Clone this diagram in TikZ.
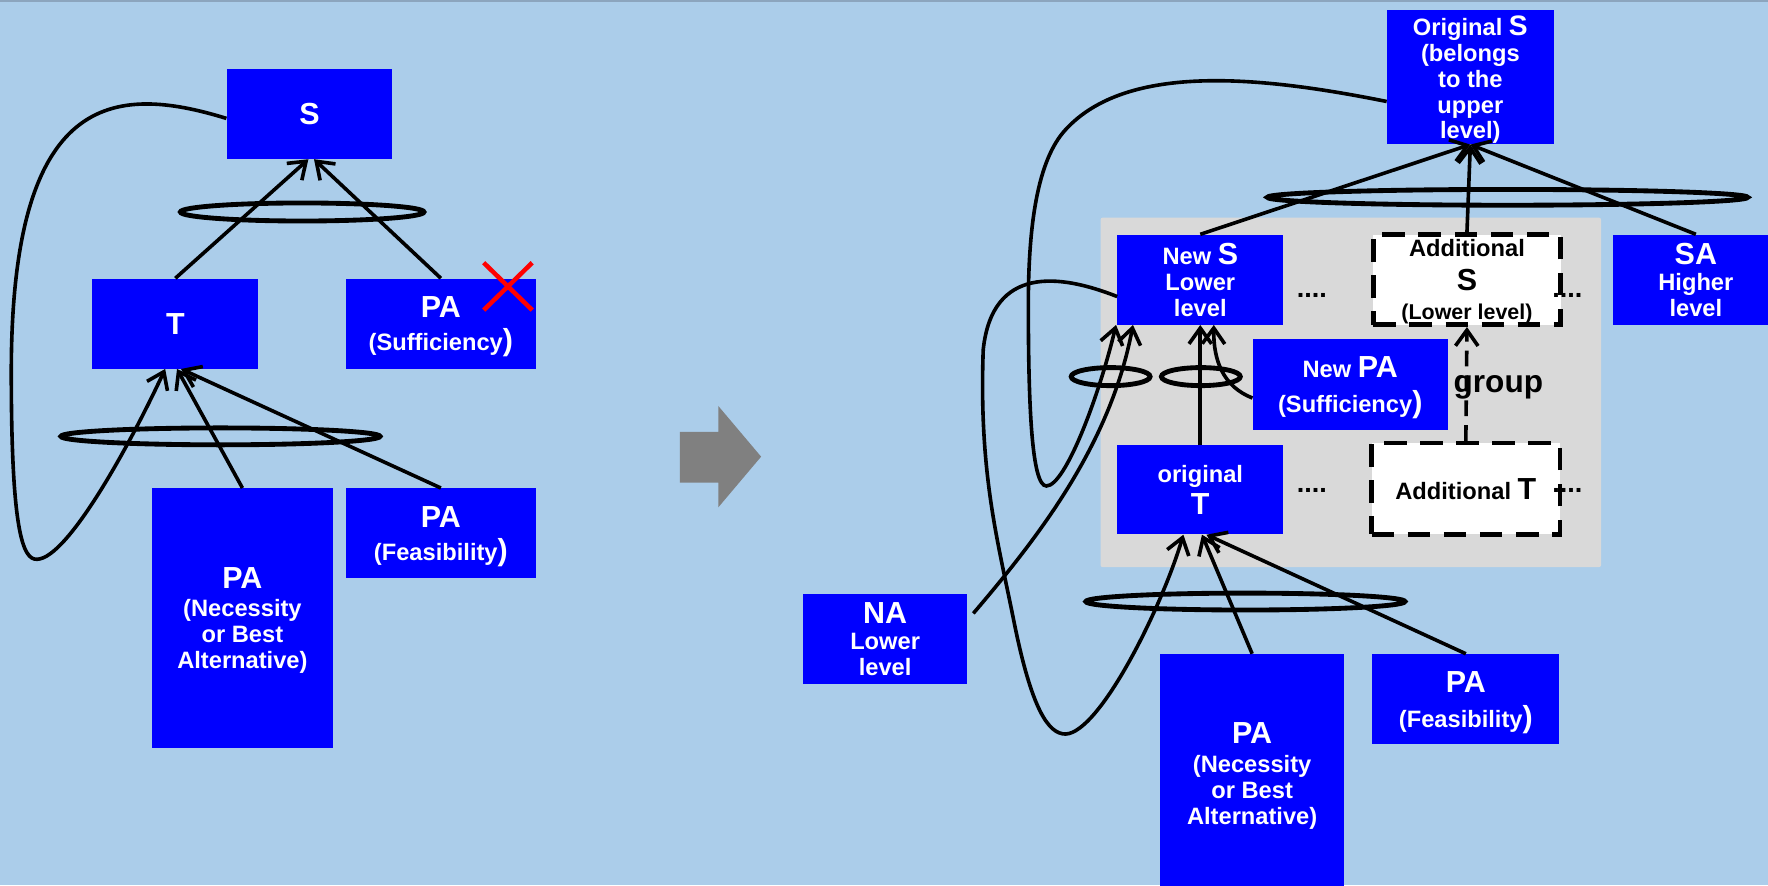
\documentclass[tikz,border=0pt]{standalone}
\usepackage{fontspec}
\setmainfont{Liberation Sans}
\usetikzlibrary{arrows.meta}
\definecolor{bgblue}{RGB}{171,205,234}
\definecolor{boxblue}{RGB}{0,0,255}
\definecolor{groupgray}{RGB}{217,217,217}
\definecolor{shiftgray}{RGB}{128,128,128}
\definecolor{topedge}{RGB}{140,165,190}
\newcommand{\bigpart}[1]{{\fontsize{27}{23}\selectfont #1}}

\begin{document}
\begin{tikzpicture}[x=1pt,y=-1pt,
  box/.style={rectangle, fill=boxblue, text=white, inner sep=0pt, align=center,
    text depth=0pt, font=\fontsize{21}{23}\selectfont\bfseries},
  dashbox/.style={rectangle, fill=white, draw=black, line width=4pt,
    dash pattern=on 20pt off 12pt, text=black, inner sep=0pt, align=center,
    text depth=0pt, font=\fontsize{21}{23}\selectfont\bfseries},
  link/.style={draw=black, line width=3.2pt, -{Straight Barb[length=14pt,width=20pt]}},
  andring/.style={draw=black, line width=4.3pt},
  dots/.style={font=\fontsize{24}{24}\selectfont\bfseries, inner sep=0pt, anchor=base},
]
% canvas
\fill[bgblue] (0,0) rectangle (1568,785);
\useasboundingbox (0,0) rectangle (1568,785);
\draw[topedge, line width=2pt] (0,1) -- (1568,1);

% ---------- before: single level ----------
\node[box, minimum width=147pt, minimum height=80pt] (S) at (274.5,101) {\bigpart{S}};
\node[box, minimum width=147pt, minimum height=80pt] (T) at (155.5,287) {\bigpart{T}};
\node[box, minimum width=168pt, minimum height=80pt] (PAsuf) at (391,287)
  {\bigpart{PA}\\[6pt](Sufficiency\bigpart{)}};
\node[box, minimum width=168pt, minimum height=80pt] (PAfea) at (391,473)
  {\bigpart{PA}\\[6pt](Feasibility\bigpart{)}};
\node[box, minimum width=160pt, minimum height=230pt] (PAnec) at (215,548)
  {\bigpart{PA}\\[2pt](Necessity\\or Best\\Alternative)};

% the sufficiency assumption is struck out
\draw[red, line width=4pt] (429,233) -- (472,275) (472,233) -- (429,275);

\draw[link] (T.north) -- ([xshift=-1pt]S.south);
\draw[link] (PAsuf.north) -- ([xshift=4pt]S.south);
\draw[andring] (268,188) ellipse [x radius=108pt, y radius=8pt];
\draw[link] (PAnec.north) -- ([xshift=1.5pt]T.south);
\draw[link] (PAfea.north) -- ([xshift=5pt]T.south);
\draw[andring] (195.5,387) ellipse [x radius=141.5pt, y radius=7.5pt];
\draw[link] ([yshift=-4pt]S.west) .. controls (100,74) and (10,82) .. (10,330)
  .. controls (10,470) and (20,497) .. (33,496)
  .. controls (60,495) and (115,395) .. ([xshift=-9pt]T.south);

% ---------- transition arrow ----------
\fill[shiftgray] (603,383) -- (637,383) -- (637,360) -- (675,405) -- (637,450)
  -- (637,428) -- (603,428) -- cycle;

% ---------- after: two levels ----------
\fill[groupgray, rounded corners=2pt] (976,193) rectangle (1420,503);

\node[box, minimum width=148pt, minimum height=119pt] (OS) at (1304,68.5)
  {Original {\fontsize{25}{23}\selectfont S}\\(belongs\\to the\\upper\\level)};
\node[box, minimum width=147pt, minimum height=80pt] (NS) at (1064.5,248)
  {New \bigpart{S}\\Lower\\level};
\node[dashbox, minimum width=166pt, minimum height=80pt] (AS) at (1301,248)
  {Additional\\[7pt]\bigpart{S}\\[3pt]{\fontsize{19}{23}\selectfont (Lower level)}};
\node[box, minimum width=147pt, minimum height=80pt] (SA) at (1504,248)
  {\bigpart{SA}\\Higher\\level};
\node[box, minimum width=173pt, minimum height=80pt] (NPA) at (1197.5,341)
  {New \bigpart{PA}\\[8pt](Sufficiency\bigpart{)}};
\node[box, minimum width=147pt, minimum height=79pt] (OT) at (1064.5,434.5)
  {original\\[5pt]\bigpart{T}};
\node[dashbox, minimum width=167pt, minimum height=81pt] (AT) at (1300,433.5)
  {Additional \bigpart{T}};
\node[box, minimum width=146pt, minimum height=80pt] (NA) at (785,567)
  {\bigpart{NA}\\Lower\\level};
\node[box, minimum width=163pt, minimum height=212pt] (PAnec2) at (1110.5,686)
  {\bigpart{PA}\\[3pt](Necessity\\or Best\\Alternative)};
\node[box, minimum width=166pt, minimum height=80pt] (PAfea2) at (1300,620)
  {\bigpart{PA}\\[8pt](Feasibility\bigpart{)}};

\node[dots] (dNS) at (1163.5,264) {....};
\node[dots] (dAS) at (1390,264) {....};
\node[dots] (dOT) at (1163.5,436.5) {....};
\node[dots] (dAT) at (1390,436.5) {....};
\node[font=\fontsize{28}{28}\selectfont\bfseries, anchor=base west, inner sep=0pt]
  (grp) at (1289,348) {group};

% links into the original S
\draw[link] (NS.north) -- (OS.south);
\draw[link] (AS.north) -- (OS.south);
\draw[link] (SA.north) -- (OS.south);
\draw[andring] (1337,175) ellipse [x radius=213pt, y radius=7pt];

% links into the new lower-level S
\draw[link] (OT.north) -- (NS.south);
\draw[link] ([yshift=-12pt]NPA.west) .. controls (1085,343) and (1076,320)
  .. ([xshift=12pt]NS.south);
\draw[link] ([shift={(5pt,23pt)}]NA.east) .. controls (923,474) and (985,393)
  .. ([xshift=14pt]NS.south west);
\draw[link] ([yshift=-21.5pt]OS.west) .. controls (1120,68) and (1000,55) .. (945,115)
  .. controls (920,142) and (912,200) .. (912,270)
  .. controls (912,360) and (915,431) .. (928,431)
  .. controls (945,431) and (975,350) .. ([xshift=-1pt]NS.south west);
\draw[andring] (985,334) ellipse [x radius=35pt, y radius=8pt];
\draw[andring] (1065,334) ellipse [x radius=35pt, y radius=8pt];

% grouping of the additional T under the additional S
\draw[link, dash pattern=on 14pt off 8pt] (AT.north) -- (AS.south);

% links into the original T
\draw[link] ([yshift=-15pt]NS.west) .. controls (940,243) and (880,235) .. (872,310)
  .. controls (868,420) and (885,480) .. (899,550)
  .. controls (915,630) and (930,651) .. (945,651)
  .. controls (975,650) and (1030,540) .. ([xshift=-15pt]OT.south);
\draw[link] (PAnec2.north) -- ([xshift=1.5pt]OT.south);
\draw[link] (PAfea2.north) -- ([xshift=5.5pt]OT.south);
\draw[andring] (1104.5,533.5) ellipse [x radius=141.5pt, y radius=7.5pt];
\end{tikzpicture}
\end{document}
